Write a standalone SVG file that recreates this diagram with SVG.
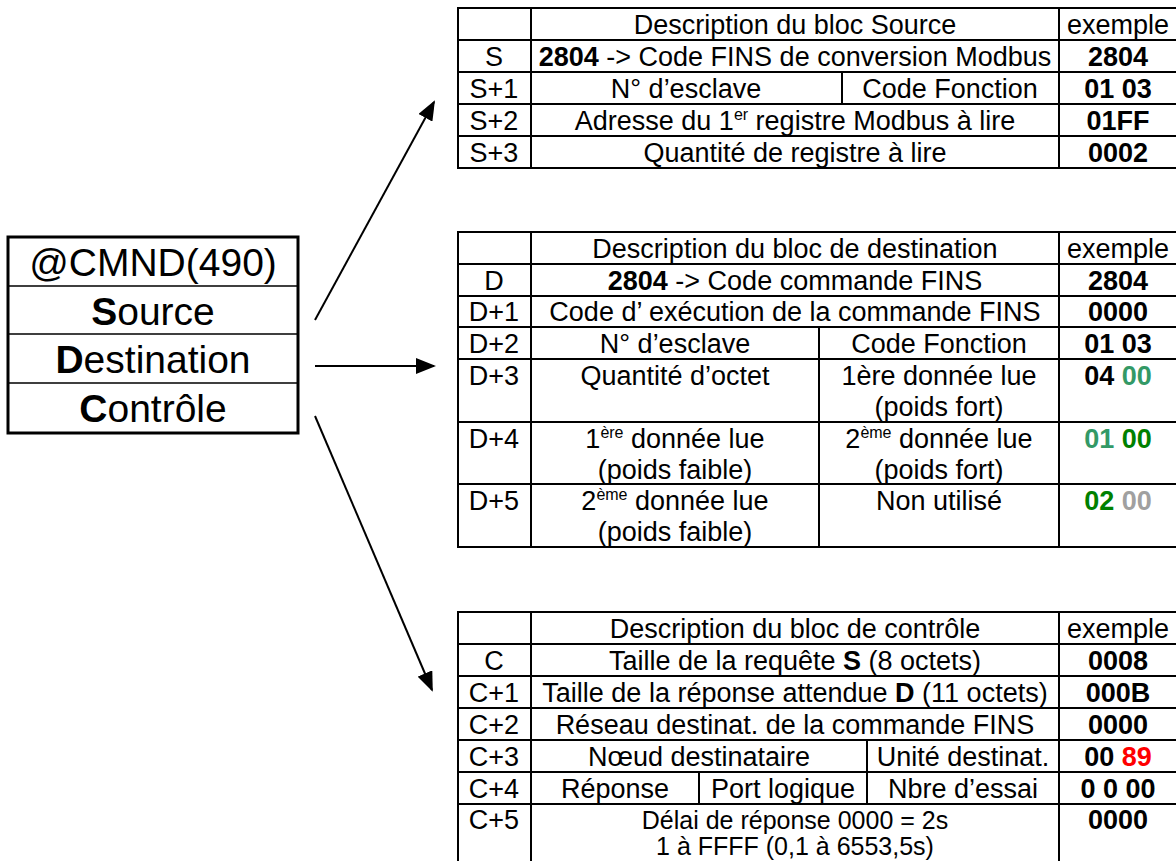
<svg xmlns="http://www.w3.org/2000/svg" width="1176" height="861" viewBox="0 0 1176 861">
<style>
text{font-family:"Liberation Sans",Arial,sans-serif;fill:#000}
.t{font-size:27px;text-anchor:middle}
.s25{font-size:25px}
.b{font-weight:bold}
.box{font-size:39px;text-anchor:middle}
.ln{stroke:#000;stroke-width:2;fill:none}
.thin{stroke:#000;stroke-width:1.3;fill:none}
.con{stroke:#000;stroke-width:2;fill:none;marker-end:url(#ah)}
.g1{fill:#339966}.g2{fill:#008000}.gr{fill:#a0a0a0}.rd{fill:#ff0000}
.sup{font-size:16px}
</style>
<defs>
<marker id="ah" markerWidth="10" markerHeight="8" refX="9" refY="4" orient="auto" markerUnits="strokeWidth"><path d="M0,0 L10,4 L0,8 Z" fill="#000"/></marker>
</defs>
<rect width="1176" height="861" fill="#fff"/>

<g id="cmnd">
<rect x="8" y="237" width="290" height="196" fill="#fff" stroke="#000" stroke-width="3"/>
<path class="thin" d="M8,286H298M8,334H298M8,383H298"/>
<text class="box" x="153" y="276">@CMND(490)</text>
<text class="box" x="153" y="325"><tspan class="b">S</tspan>ource</text>
<text class="box" x="153" y="373"><tspan class="b">D</tspan>estination</text>
<text class="box" x="153" y="422"><tspan class="b">C</tspan>ontrôle</text>
</g>

<g id="connectors">
<line class="con" x1="315" y1="320" x2="434" y2="102"/>
<line class="con" x1="315" y1="366" x2="434" y2="366"/>
<line class="con" x1="315" y1="416" x2="432" y2="690"/>
</g>

<g id="source-table">
<rect class="ln" x="458" y="8" width="724" height="160"/>
<path class="ln" d="M531,8V168M1059,8V168M458,40H1182M458,72H1182M458,104H1182M458,136H1182M842,72V104"/>
<text class="t" x="795" y="34">Description du bloc Source</text>
<text class="t" x="1118" y="34">exemple</text>
<text class="t" x="494" y="66">S</text>
<text class="t" x="795" y="66"><tspan class="b">2804</tspan> -&gt; Code FINS de conversion Modbus</text>
<text class="t b" x="1118" y="66">2804</text>
<text class="t" x="494" y="98">S+1</text>
<text class="t" x="686" y="98">N° d’esclave</text>
<text class="t" x="950" y="98">Code Fonction</text>
<text class="t b" x="1118" y="98">01 03</text>
<text class="t" x="494" y="130">S+2</text>
<text class="t" x="795" y="130">Adresse du 1<tspan class="sup" dy="-10">er</tspan><tspan dy="10"> registre Modbus à lire</tspan></text>
<text class="t b" x="1118" y="130">01FF</text>
<text class="t" x="494" y="162">S+3</text>
<text class="t" x="795" y="162">Quantité de registre à lire</text>
<text class="t b" x="1118" y="162">0002</text>
</g>

<g id="destination-table">
<rect class="ln" x="458" y="232" width="724" height="315"/>
<path class="ln" d="M531,232V547M1059,232V547M458,264H1182M458,296H1182M458,327H1182M458,359H1182M458,422H1182M458,484H1182M819,327V547"/>
<text class="t" x="795" y="258">Description du bloc de destination</text>
<text class="t" x="1118" y="258">exemple</text>
<text class="t" x="494" y="290">D</text>
<text class="t" x="795" y="290"><tspan class="b">2804</tspan> -&gt; Code commande FINS</text>
<text class="t b" x="1118" y="290">2804</text>
<text class="t" x="494" y="321">D+1</text>
<text class="t" x="795" y="321">Code d’ exécution de la commande FINS</text>
<text class="t b" x="1118" y="321">0000</text>
<text class="t" x="494" y="353">D+2</text>
<text class="t" x="675" y="353">N° d’esclave</text>
<text class="t" x="939" y="353">Code Fonction</text>
<text class="t b" x="1118" y="353">01 03</text>
<text class="t" x="494" y="385">D+3</text>
<text class="t" x="675" y="385">Quantité d’octet</text>
<text class="t" x="939" y="385">1ère donnée lue</text>
<text class="t" x="939" y="416">(poids fort)</text>
<text class="t b" x="1118" y="385">04 <tspan class="g1">00</tspan></text>
<text class="t" x="494" y="448">D+4</text>
<text class="t" x="675" y="448">1<tspan class="sup" dy="-10">ère</tspan><tspan dy="10"> donnée lue</tspan></text>
<text class="t" x="675" y="479">(poids faible)</text>
<text class="t" x="939" y="448">2<tspan class="sup" dy="-10">ème</tspan><tspan dy="10"> donnée lue</tspan></text>
<text class="t" x="939" y="479">(poids fort)</text>
<text class="t b" x="1118" y="448"><tspan class="g1">01</tspan> <tspan class="g2">00</tspan></text>
<text class="t" x="494" y="510">D+5</text>
<text class="t" x="675" y="510">2<tspan class="sup" dy="-10">ème</tspan><tspan dy="10"> donnée lue</tspan></text>
<text class="t" x="675" y="541">(poids faible)</text>
<text class="t" x="939" y="510">Non utilisé</text>
<text class="t b" x="1118" y="510"><tspan class="g2">02</tspan> <tspan class="gr">00</tspan></text>
</g>

<g id="control-table">
<rect class="ln" x="458" y="612" width="724" height="256"/>
<path class="ln" d="M531,612V868M1059,612V868M458,644H1182M458,676H1182M458,708H1182M458,740H1182M458,772H1182M458,804H1182M867,740V804M699,772V804"/>
<text class="t" x="795" y="638">Description du bloc de contrôle</text>
<text class="t" x="1118" y="638">exemple</text>
<text class="t" x="494" y="670">C</text>
<text class="t" x="795" y="670">Taille de la requête <tspan class="b">S</tspan>  (8 octets)</text>
<text class="t b" x="1118" y="670">0008</text>
<text class="t" x="494" y="702">C+1</text>
<text class="t" x="795" y="702">Taille de la réponse attendue <tspan class="b">D</tspan> (11 octets)</text>
<text class="t b" x="1118" y="702">000B</text>
<text class="t" x="494" y="734">C+2</text>
<text class="t" x="795" y="734">Réseau destinat. de la commande FINS</text>
<text class="t b" x="1118" y="734">0000</text>
<text class="t" x="494" y="766">C+3</text>
<text class="t" x="699" y="766">Nœud destinataire</text>
<text class="t" x="963" y="766">Unité destinat.</text>
<text class="t b" x="1118" y="766">00 <tspan class="rd">89</tspan></text>
<text class="t" x="494" y="798">C+4</text>
<text class="t" x="615" y="798">Réponse</text>
<text class="t" x="783" y="798">Port logique</text>
<text class="t" x="963" y="798">Nbre d’essai</text>
<text class="t b" x="1118" y="798">0 0 00</text>
<text class="t" x="494" y="829">C+5</text>
<text class="t s25" x="795" y="829">Délai de réponse 0000 = 2s</text>
<text class="t s25" x="795" y="855">1 à FFFF (0,1 à 6553,5s)</text>
<text class="t b" x="1118" y="829">0000</text>
</g>
</svg>
